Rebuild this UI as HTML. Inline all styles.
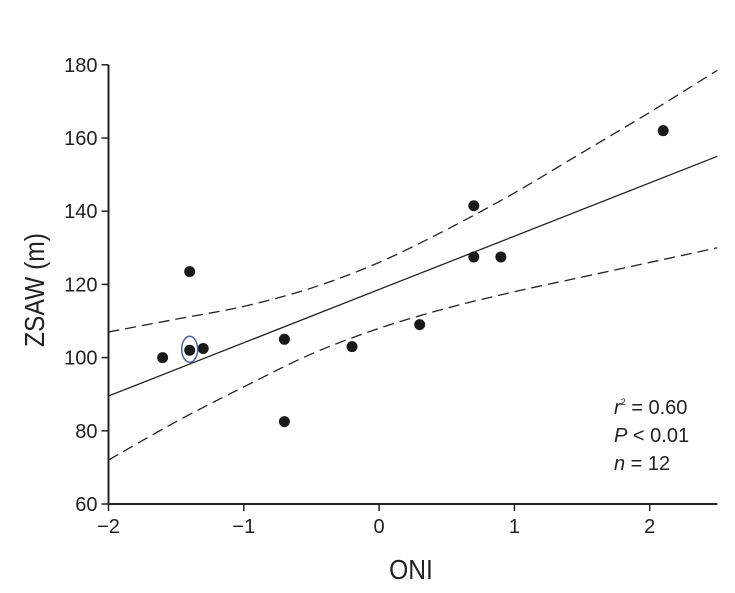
<!DOCTYPE html>
<html><head><meta charset="utf-8"><style>
html,body{margin:0;padding:0;background:#fff;}
svg{display:block;font-family:"Liberation Sans Narrow","Liberation Sans",Arial,sans-serif;}
</style></head><body>
<svg id="chart" width="735" height="593" viewBox="0 0 735 593">
<g id="plot"></g>
</svg>
<script>
const xTicks=[-2,-1,0,1,2];
const xTickLabels=["\u22122","\u22121","0","1","2"];
const yTicks=[60,80,100,120,140,160,180];
const yTickLabels=["60","80","100","120","140","160","180"];
const oni=[-1.6,-1.4,-1.3,-1.4,-0.7,-0.7,-0.2,0.3,0.7,0.7,0.9,2.1];
const zsaw=[100,102,102.5,123.5,105,82.5,103,109,141.5,127.5,127.5,162];
const fitX=[-2,2.5];
const fitY=[89.5,155];
const ciX=[-2,-1.5,-1,-0.5,0,0.5,1,1.5,2,2.5];
const ciUpper=[107,110.5,114,119,126,135,145,156,167,178.5];
const ciLower=[72,82.5,92,101,108,113.5,118,122,126,130];
const circledIndex=1;

const NS="http://www.w3.org/2000/svg";
const g=document.getElementById('plot');
const X0=108.5,PX=135.3,Y0=504,PY=3.66;
function sx(v){return X0+(v+2)*PX;}
function sy(v){return Y0-(v-60)*PY;}
function el(t,a,txt){const e=document.createElementNS(NS,t);for(const k in a)e.setAttribute(k,a[k]);if(txt!==undefined)e.textContent=txt;g.appendChild(e);return e;}

let e;
e=el('line',{x1:sx(-2),y1:sy(60),x2:sx(2.5),y2:sy(60),stroke:'#222','stroke-width':2});


e=el('line',{x1:sx(-2),y1:sy(60),x2:sx(-2),y2:sy(180),stroke:'#222','stroke-width':2});



xTicks.forEach((t,i)=>{
  e=el('line',{x1:sx(t),y1:Y0,x2:sx(t),y2:Y0+7,stroke:'#222','stroke-width':1.5});
  
  
  e=el('text',{x:sx(t),y:Y0+29,'text-anchor':'middle','font-size':20,fill:'#222'},xTickLabels[i]);
  
  
});
yTicks.forEach((t,i)=>{
  e=el('line',{x1:X0-7,y1:sy(t),x2:X0,y2:sy(t),stroke:'#222','stroke-width':1.5});
  
  
  e=el('text',{x:X0-11,y:sy(t)+7,'text-anchor':'end','font-size':20,fill:'#222'},yTickLabels[i]);
  
  
});

function smooth(xs,ys){
  const p=xs.map((x,i)=>[sx(x),sy(ys[i])]);
  let d='M'+p[0][0]+','+p[0][1];
  for(let i=0;i<p.length-1;i++){
    const p0=p[Math.max(0,i-1)],p1=p[i],p2=p[i+1],p3=p[Math.min(p.length-1,i+2)];
    const c1=[p1[0]+(p2[0]-p0[0])/6,p1[1]+(p2[1]-p0[1])/6];
    const c2=[p2[0]-(p3[0]-p1[0])/6,p2[1]-(p3[1]-p1[1])/6];
    d+=' C'+c1+' '+c2+' '+p2;
  }
  return d;
}
e=el('path',{d:smooth(ciX,ciUpper),fill:'none',stroke:'#222','stroke-width':1.3,'stroke-dasharray':'11,6'});


e=el('path',{d:smooth(ciX,ciLower),fill:'none',stroke:'#222','stroke-width':1.3,'stroke-dasharray':'11,6'});


e=el('line',{x1:sx(fitX[0]),y1:sy(fitY[0]),x2:sx(fitX[1]),y2:sy(fitY[1]),stroke:'#222','stroke-width':1.3});



oni.forEach((x,i)=>{
  e=el('circle',{cx:sx(x),cy:sy(zsaw[i]),r:5.5,fill:'#1a1a1a'});
  
  
});
e=el('ellipse',{cx:sx(oni[circledIndex]),cy:sy(zsaw[circledIndex])-1,rx:8,ry:13,fill:'none',stroke:'#4a5fa8','stroke-width':1.5});



e=el('text',{x:0,y:0,'text-anchor':'middle','font-size':28,fill:'#222',transform:'translate(411,579) scale(0.88,1)'},'ONI');


e=el('text',{x:0,y:0,'text-anchor':'middle','font-size':28,fill:'#222',transform:'translate(44,290) rotate(-90) scale(0.88,1)'},'ZSAW (m)');



const st=el('g',{'font-size':20,fill:'#222'});


st.innerHTML='<text x="614" y="414"><tspan font-style="italic">r</tspan><tspan font-size="9" dy="-9">2</tspan><tspan dy="9"> = 0.60</tspan></text>'+
'<text x="614" y="442"><tspan font-style="italic">P</tspan> &lt; 0.01</text>'+
'<text x="614" y="470"><tspan font-style="italic">n</tspan> = 12</text>';
</script>
</body></html>
